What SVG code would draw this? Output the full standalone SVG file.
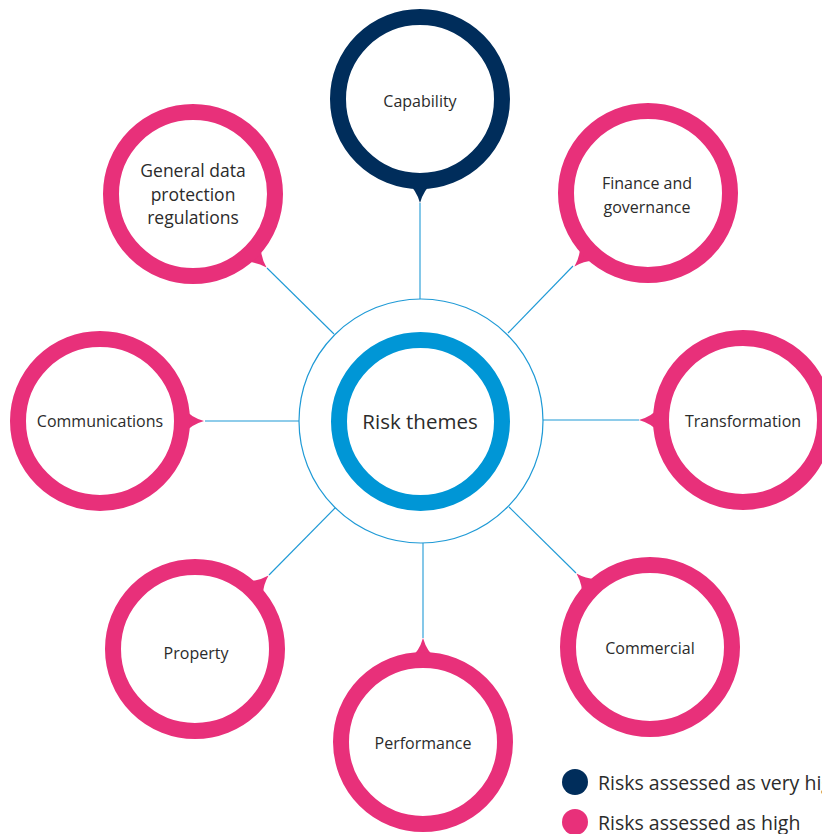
<svg xmlns="http://www.w3.org/2000/svg" width="822" height="834" viewBox="0 0 822 834">
<defs>
<style>
.bg{fill:#ffffff}
.conn{stroke:#1f9ad6;stroke-width:1.1;fill:none}
.ring{fill:#ffffff;stroke-width:16}
.pink .ring{stroke:#e8307a}
.pink .ptr{fill:#e8307a}
.navy .ring{stroke:#002d5b}
.navy .ptr{fill:#002d5b}
.lbl{font-family:"Open Sans","Noto Sans","Liberation Sans",sans-serif;font-size:16px;fill:#2b2b2b;text-anchor:middle}
.mid{font-size:17.5px}
.big{font-size:20.5px}
.leg{font-family:"Open Sans","Noto Sans","Liberation Sans",sans-serif;font-size:19.5px;fill:#2b2b2b}
</style>
<path id="ptr" d="M -13,84 Q -4,90 0,104 Q 4,90 13,84 Z"/>
</defs>
<rect class="bg" x="0" y="0" width="822" height="834"/>
<g id="connectors">
<line class="conn" x1="420" y1="203" x2="420" y2="299"/>
<line class="conn" x1="573" y1="266" x2="508" y2="333"/>
<line class="conn" x1="639" y1="420" x2="543" y2="420"/>
<line class="conn" x1="576" y1="573" x2="509" y2="507"/>
<line class="conn" x1="423" y1="638" x2="423" y2="543"/>
<line class="conn" x1="269" y1="575" x2="335" y2="508"/>
<line class="conn" x1="205" y1="421" x2="299" y2="421"/>
<line class="conn" x1="267" y1="268" x2="334" y2="334"/>
</g>
<g id="risk-themes">
<circle cx="421" cy="421" r="122" fill="#ffffff" stroke="#1f9ad6" stroke-width="1.2"/>
<circle cx="420.5" cy="421.5" r="81.5" fill="#ffffff" stroke="#0096d6" stroke-width="16"/>
<text class="lbl big" x="420" y="429">Risk themes</text>
</g>
<g id="capability" class="navy" transform="translate(420,99)">
<use href="#ptr" class="ptr"/>
<circle class="ring" r="82"/>
<text class="lbl" x="0" y="8">Capability</text>
</g>
<g id="finance" class="pink" transform="translate(648,193)">
<use href="#ptr" class="ptr" transform="rotate(45)"/>
<circle class="ring" r="82"/>
<text class="lbl" x="-1" y="-4">Finance and</text>
<text class="lbl" x="-1" y="20">governance</text>
</g>
<g id="transformation" class="pink" transform="translate(743,420)">
<use href="#ptr" class="ptr" transform="rotate(90)"/>
<circle class="ring" r="82"/>
<text class="lbl" x="0" y="7">Transformation</text>
</g>
<g id="commercial" class="pink" transform="translate(650,647)">
<use href="#ptr" class="ptr" transform="rotate(135)"/>
<circle class="ring" r="82"/>
<text class="lbl" x="0" y="7">Commercial</text>
</g>
<g id="performance" class="pink" transform="translate(423,742)">
<use href="#ptr" class="ptr" transform="rotate(180)"/>
<circle class="ring" r="82"/>
<text class="lbl" x="0" y="7">Performance</text>
</g>
<g id="property" class="pink" transform="translate(195,649)">
<use href="#ptr" class="ptr" transform="rotate(225)"/>
<circle class="ring" r="82"/>
<text class="lbl" x="1" y="10">Property</text>
</g>
<g id="communications" class="pink" transform="translate(100,421)">
<use href="#ptr" class="ptr" transform="rotate(270)"/>
<circle class="ring" r="82"/>
<text class="lbl" x="0" y="6">Communications</text>
</g>
<g id="gdpr" class="pink" transform="translate(193,194)">
<use href="#ptr" class="ptr" transform="rotate(315)"/>
<circle class="ring" r="82"/>
<text class="lbl mid" x="0" y="-17">General data</text>
<text class="lbl mid" x="0" y="7">protection</text>
<text class="lbl mid" x="0" y="30">regulations</text>
</g>
<g id="legend">
<circle cx="575" cy="782" r="13" fill="#002d5b"/>
<text class="leg" x="598" y="790">Risks assessed as very high</text>
<circle cx="575" cy="822" r="13" fill="#e8307a"/>
<text class="leg" x="598" y="830">Risks assessed as high</text>
</g>
</svg>
